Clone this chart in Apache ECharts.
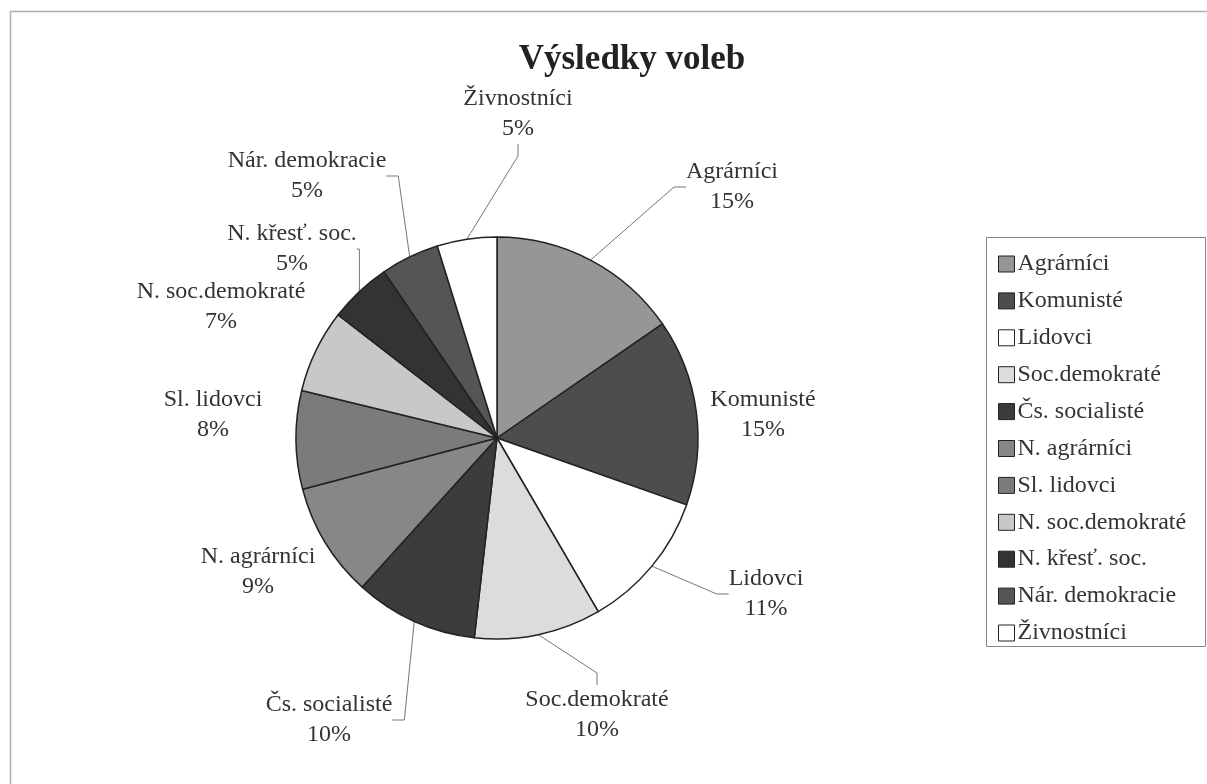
<!DOCTYPE html>
<html>
<head>
<meta charset="utf-8">
<script src="https://cdn.jsdelivr.net/npm/echarts@6/dist/echarts.min.js"></script>
<style>
  html, body { margin: 0; padding: 0; background: #fff; }
  #chart { width: 1207px; height: 784px; }
</style>
</head>
<body>
<div id="chart"></div>
<script>
var myChart = echarts.init(document.getElementById('chart'));

// strany a podil hlasu
let parties = ['Agrárníci', 'Komunisté', 'Lidovci', 'Soc.demokraté', 'Čs. socialisté',
               'N. agrárníci', 'Sl. lidovci', 'N. soc.demokraté', 'N. křesť. soc.',
               'Nár. demokracie', 'Živnostníci'];
let shares = [15.4, 15.0, 11.2, 10.2, 9.9, 9.2, 7.9, 6.7, 5.0, 4.7, 4.8];
let colors = ['#969696', '#4d4d4d', '#ffffff', '#dcdcdc', '#3c3c3c',
              '#878787', '#7b7b7b', '#c8c8c8', '#333333', '#555555', '#ffffff'];

// kde stoji popisky (stred dvouradkoveho textu) a jestli maji vodici caru
let labelPos = [[732, 187], [763, 415], [766, 594], [597, 715], [329, 720],
                [258, 572], [213, 415], [221, 307], [292, 249], [307, 176], [518, 114]];
let withLine = [true, false, true, true, true, false, false, false, true, true, true];

let pieData = parties.map(function (name, i) {
  return {
    name: name,
    value: shares[i],
    itemStyle: { color: colors[i] },
    labelLine: { show: withLine[i] }
  };
});

var option = {
  backgroundColor: '#fff',
  animation: false,
  title: {
    text: 'Výsledky voleb',
    left: 627,
    top: 37,
    textAlign: 'center',
    textStyle: {
      fontFamily: 'Liberation Serif',
      fontSize: 35,
      fontWeight: 'bold',
      color: '#222'
    }
  },
  legend: {
    orient: 'vertical',
    left: 993,
    top: 247,
    itemWidth: 16,
    itemHeight: 16,
    itemGap: 12.9,
    icon: 'rect',
    data: parties,
    itemStyle: { borderColor: '#222', borderWidth: 1 },
    textStyle: {
      fontFamily: 'Liberation Serif',
      fontSize: 24,
      lineHeight: 24,
      color: '#333',
      padding: [0, 0, 0, -2]
    }
  },
  graphic: [
    {
      type: 'polyline',
      shape: { points: [[10.5, 784], [10.5, 11.5], [1207, 11.5]] },
      style: { fill: null, stroke: '#b0b0b0', lineWidth: 1.5 }
    },
    {
      type: 'rect',
      shape: { x: 986.5, y: 237.5, width: 219, height: 409 },
      style: { fill: null, stroke: '#888', lineWidth: 1 },
      z: -1
    }
  ],
  series: [{
    type: 'pie',
    center: [497, 438],
    radius: 201,
    startAngle: 90,
    clockwise: true,
    percentPrecision: 0,
    avoidLabelOverlap: false,
    itemStyle: { borderColor: '#222', borderWidth: 1.5 },
    label: {
      show: true,
      position: 'outside',
      formatter: '{b}\n{d}%',
      fontFamily: 'Liberation Serif',
      fontSize: 24,
      lineHeight: 30,
      color: '#333'
    },
    labelLine: {
      show: true,
      length: 10,
      length2: 12,
      lineStyle: { color: '#777', width: 1 }
    },
    labelLayout: function (p) {
      var q = labelPos[p.dataIndex];
      return { x: q[0], y: q[1], align: 'center', verticalAlign: 'middle' };
    },
    data: pieData
  }]
};
myChart.setOption(option);
</script>
</body>
</html>
